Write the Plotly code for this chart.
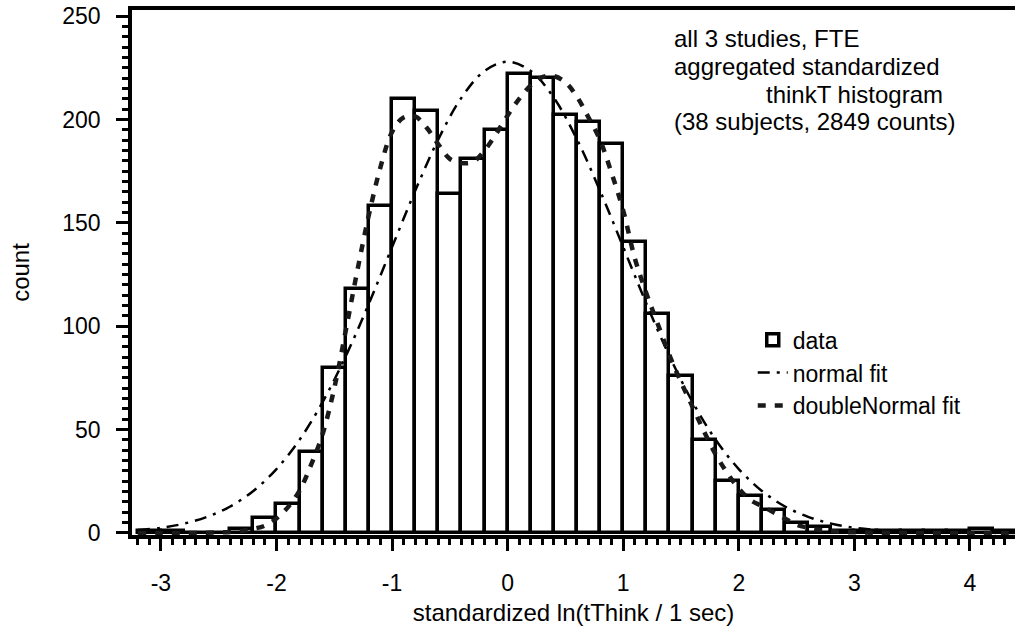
import plotly.graph_objects as go

# ---- histogram data (bin width 0.2) ----
bin_centers = [-3.1, -2.9, -2.7, -2.5, -2.3, -2.1, -1.9, -1.7, -1.5, -1.3,
               -1.1, -0.9, -0.7, -0.5, -0.3, -0.1, 0.1, 0.3, 0.5, 0.7,
               0.9, 1.1, 1.3, 1.5, 1.7, 1.9, 2.1, 2.3, 2.5, 2.7,
               2.9, 3.1, 3.3, 3.5, 3.7, 3.9, 4.1, 4.3]
counts = [1, 1, 0, 0, 2, 7, 14, 39, 80, 118,
          158, 210, 204, 164, 181, 195, 222, 220, 202, 199,
          188, 141, 106, 76, 45, 25, 18, 11, 5, 3,
          1, 1, 1, 1, 1, 1, 2, 1]

# ---- normal fit ----
normal_x = [-3.2, -3.0, -2.8, -2.6, -2.4, -2.2, -2.0, -1.8, -1.6, -1.4,
            -1.2, -1.0, -0.8, -0.6, -0.4, -0.2, 0.0, 0.2, 0.4, 0.6,
            0.8, 1.0, 1.2, 1.4, 1.6, 1.8, 2.0, 2.2, 2.4, 2.6,
            2.8, 3.0, 3.2, 3.4, 3.6, 3.8, 4.0, 4.2, 4.4]
normal_y = [1.4, 2.5, 4.5, 7.8, 12.8, 20.3, 30.9, 45.1, 63.4, 85.6,
            111.0, 138.3, 165.5, 190.4, 210.5, 223.5, 228.0, 223.5, 210.5, 190.4,
            165.5, 138.3, 111.0, 85.6, 63.4, 45.1, 30.9, 20.3, 12.8, 7.8,
            4.5, 2.5, 1.4, 0.7, 0.35, 0.16, 0.08, 0.03, 0.01]

# ---- doubleNormal fit ----
dn_x = [-3.2, -3.0, -2.8, -2.6, -2.4, -2.3, -2.2, -2.1, -2.0, -1.9,
        -1.8, -1.7, -1.6, -1.5, -1.4, -1.3, -1.2, -1.1, -1.0, -0.9,
        -0.8, -0.7, -0.6, -0.5, -0.4, -0.3, -0.2, -0.1, 0.0, 0.1,
        0.2, 0.3, 0.4, 0.5, 0.6, 0.7, 0.8, 0.9, 1.0, 1.1,
        1.2, 1.3, 1.4, 1.5, 1.6, 1.7, 1.8, 1.9, 2.0, 2.1,
        2.2, 2.3, 2.4, 2.5, 2.6, 2.7, 2.8, 2.9, 3.0, 3.2,
        3.6, 4.0, 4.4]
dn_y = [0.0, 0.0, 0.0, 0.1, 0.5, 1.0, 2.0, 3.5, 7.0, 12.5,
        20.5, 33.0, 48.0, 70.0, 98.0, 127.0, 154.0, 177.0, 194.0, 201.0,
        201.5, 196.0, 188.0, 181.0, 179.0, 179.5, 185.0, 193.0, 202.0, 210.0,
        216.5, 220.5, 221.0, 218.0, 211.0, 201.0, 190.0, 174.0, 156.0, 133.0,
        116.0, 101.0, 86.0, 73.0, 61.0, 49.0, 38.0, 29.0, 21.5, 16.0,
        13.0, 10.0, 7.0, 4.0, 2.5, 1.5, 0.9, 0.5, 0.3, 0.1,
        0.0, 0.0, 0.0]

x_ticks = [-3, -2, -1, 0, 1, 2, 3, 4]
y_ticks = [0, 50, 100, 150, 200, 250]

info_lines = ["all 3 studies, FTE", "aggregated standardized",
              "thinkT histogram", "(38 subjects, 2849 counts)"]

FONT = "Liberation Sans, Arial, Helvetica, sans-serif"
TXT = 24
TICK = 23

fig = go.Figure()
fig.add_trace(go.Bar(
    x=bin_centers, y=counts, width=0.2, name="data",
    marker=dict(color="white", line=dict(color="black", width=3.5)),
))
fig.add_trace(go.Scatter(
    x=normal_x, y=normal_y, mode="lines", name="normal fit",
    line=dict(color="black", width=2.5, dash="12px,7px,3px,7px", shape="spline"),
))
fig.add_trace(go.Scatter(
    x=dn_x, y=dn_y, mode="lines", name="doubleNormal fit",
    line=dict(color="#1a1a1a", width=4.5, dash="8px,9px", shape="spline"),
))

ann = []
ann_y = [0.9450, 0.8915, 0.8382, 0.7868]
for i, t in enumerate(info_lines):
    if i == 2:
        ann.append(dict(text=t, x=0.9207, xanchor="right", y=ann_y[i], yanchor="middle",
                        xref="paper", yref="paper", showarrow=False,
                        font=dict(size=TXT, family=FONT, color="black")))
    else:
        ann.append(dict(text=t, x=0.6115, xanchor="left", y=ann_y[i], yanchor="middle",
                        xref="paper", yref="paper", showarrow=False,
                        font=dict(size=TXT, family=FONT, color="black")))

fig.update_layout(
    width=1015, height=633,
    margin=dict(l=132, r=0, t=10, b=98),
    paper_bgcolor="white", plot_bgcolor="white",
    font=dict(family=FONT, color="black"),
    bargap=0,
    showlegend=True,
    legend=dict(x=0.703, y=0.413, xanchor="left", yanchor="top",
                font=dict(size=23, family=FONT), bgcolor="rgba(0,0,0,0)",
                tracegroupgap=0),
    annotations=ann,
)
fig.update_xaxes(
    range=[-3.25, 4.39], showgrid=False, zeroline=False,
    showline=True, linecolor="black", linewidth=3.5, mirror=True,
    ticks="outside", ticklen=12, tickwidth=3, tickcolor="black",
    tickvals=x_ticks, ticktext=[str(v) for v in x_ticks],
    ticklabelstandoff=13,
    tickfont=dict(size=TICK, family=FONT),
    minor=dict(ticks="outside", ticklen=6, tickwidth=2.5, tickcolor="black", dtick=0.1, tick0=0),
    title=dict(text="standardized ln(tThink / 1 sec)", font=dict(size=TXT, family=FONT), standoff=10),
)
fig.update_yaxes(
    range=[-1, 253], showgrid=False, zeroline=False,
    showline=True, linecolor="black", linewidth=3.5, mirror=False,
    ticks="outside", ticklen=12, tickwidth=3, tickcolor="black",
    tickvals=y_ticks, ticktext=[str(v) for v in y_ticks],
    ticklabelstandoff=11,
    tickfont=dict(size=TICK, family=FONT),
    minor=dict(ticks="outside", ticklen=6, tickwidth=2.5, tickcolor="black", dtick=5, tick0=0),
    title=dict(text="count", font=dict(size=TXT, family=FONT), standoff=27),
)

fig.write_html("out.html", config={"displayModeBar": False},
               post_script="document.body.style.margin='0px';document.body.style.overflow='hidden';")
